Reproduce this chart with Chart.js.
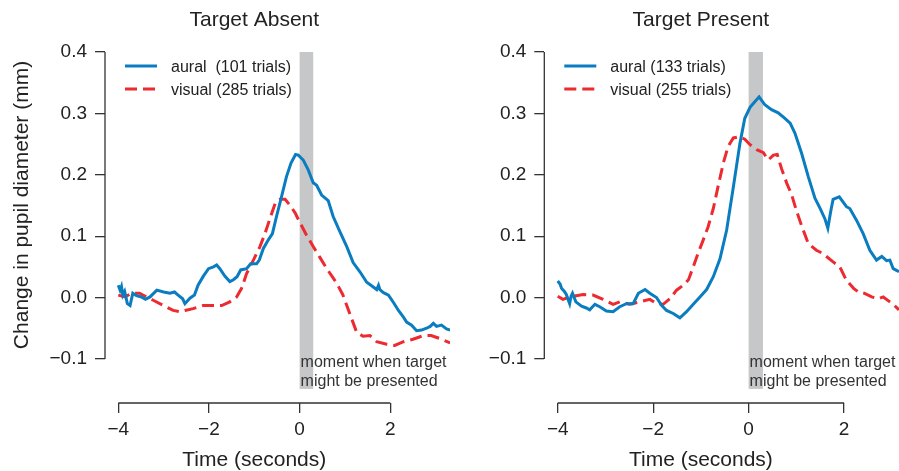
<!DOCTYPE html>
<html>
<head>
<meta charset="utf-8">
<script src="https://cdn.jsdelivr.net/npm/chart.js@4.4.1/dist/chart.umd.min.js"></script>
<style>
  html, body { margin: 0; padding: 0; background: #fff; }
  #wrap { position: relative; width: 899px; height: 471px; overflow: hidden; }
  canvas { position: absolute; top: 0; }
  #absent { left: 0; }
  #present { left: 450px; }
</style>
</head>
<body>
<div id="wrap">
  <canvas id="absent" width="450" height="471"></canvas>
  <canvas id="present" width="449" height="471"></canvas>
</div>
<script>
// ---- data (time in s, change in mm) ----
const absentAuralT = [-4.0, -3.96, -3.93, -3.9, -3.86, -3.8, -3.74, -3.68, -3.6, -3.49, -3.4, -3.3, -3.15, -3.0, -2.86, -2.76, -2.68, -2.58, -2.53, -2.42,
  -2.32, -2.24, -2.13, -2.01, -1.9, -1.83, -1.76, -1.65, -1.54, -1.46, -1.38, -1.3, -1.17, -1.08, -0.95, -0.89, -0.8, -0.69, -0.6, -0.51,
  -0.4, -0.29, -0.19, -0.09, -0.03, 0.08, 0.19, 0.3, 0.375, 0.485, 0.63, 0.74, 0.89, 1.04, 1.18, 1.33, 1.48, 1.61, 1.7, 1.74,
  1.77, 1.85, 1.96, 2.07, 2.18, 2.29, 2.36, 2.47, 2.58, 2.69, 2.8, 2.88, 2.95, 3.02, 3.13, 3.24, 3.32];
const absentAuralV = [0.020, 0.012, 0.018, 0.004, 0.010, -0.010, -0.013, 0.007, 0.003, 0.001, -0.003, 0.001, 0.012, 0.009, 0.007, 0.009, 0.004, -0.002, -0.010, -0.001,
  0.004, 0.020, 0.034, 0.047, 0.050, 0.053, 0.047, 0.035, 0.026, 0.029, 0.034, 0.045, 0.047, 0.055, 0.055, 0.061, 0.080, 0.094, 0.104, 0.132,
  0.164, 0.197, 0.219, 0.233, 0.232, 0.224, 0.208, 0.187, 0.183, 0.167, 0.158, 0.132, 0.107, 0.083, 0.057, 0.042, 0.025, 0.018, 0.013, 0.020,
  0.013, 0.008, 0.004, -0.008, -0.021, -0.032, -0.040, -0.045, -0.054, -0.053, -0.050, -0.047, -0.042, -0.047, -0.045, -0.051, -0.053];

const absentVisualT = [-4.0, -3.85, -3.71, -3.53, -3.38, -3.24, -3.0, -2.79, -2.64, -2.53, -2.35, -2.13, -1.9, -1.72, -1.54, -1.39, -1.28, -1.17, -1.02, -0.875,
  -0.765, -0.64, -0.54, -0.43, -0.32, -0.21, -0.1, 0.0, 0.15, 0.3, 0.45, 0.6, 0.82, 0.95, 1.04, 1.15, 1.26, 1.4, 1.55, 1.7,
  1.92, 2.1, 2.29, 2.5, 2.73, 2.9, 3.1, 3.32];
const absentVisualV = [0.004, 0.001, 0.007, 0.007, 0.001, -0.004, -0.013, -0.021, -0.023, -0.021, -0.018, -0.013, -0.013, -0.013, -0.007, 0.001, 0.015, 0.039, 0.061, 0.083,
  0.104, 0.132, 0.153, 0.160, 0.160, 0.150, 0.138, 0.123, 0.102, 0.083, 0.065, 0.047, 0.023, 0.005, -0.013, -0.035, -0.057, -0.063, -0.062, -0.072,
  -0.076, -0.078, -0.072, -0.068, -0.062, -0.062, -0.067, -0.074];

const presentAuralT = [-4.0, -3.95, -3.92, -3.86, -3.82, -3.75, -3.72, -3.69, -3.62, -3.5, -3.4, -3.33, -3.22, -3.12, -2.98, -2.84, -2.7, -2.56, -2.42, -2.31,
  -2.17, -2.07, -1.93, -1.82, -1.72, -1.58, -1.44, -1.3, -1.16, -1.02, -0.88, -0.74, -0.6, -0.46, -0.32, -0.18, -0.08, 0.03, 0.13, 0.22,
  0.34, 0.48, 0.62, 0.76, 0.87, 0.97, 1.11, 1.25, 1.39, 1.5, 1.6, 1.66, 1.72, 1.77, 1.9, 2.05, 2.12, 2.26, 2.4, 2.54,
  2.68, 2.79, 2.89, 2.96, 3.03, 3.15];
const presentAuralV = [0.027, 0.022, 0.015, 0.010, 0.005, -0.010, 0.002, 0.007, -0.007, -0.014, -0.017, -0.020, -0.011, -0.015, -0.022, -0.023, -0.015, -0.010, -0.010, 0.007,
  0.013, 0.007, 0.000, -0.013, -0.021, -0.026, -0.033, -0.023, -0.011, 0.001, 0.013, 0.034, 0.063, 0.110, 0.180, 0.252, 0.292, 0.310, 0.319, 0.327,
  0.314, 0.306, 0.301, 0.292, 0.284, 0.268, 0.235, 0.197, 0.162, 0.145, 0.128, 0.113, 0.140, 0.160, 0.164, 0.148, 0.145, 0.126, 0.104, 0.077,
  0.061, 0.067, 0.060, 0.061, 0.047, 0.042];

const presentVisualT = [-4.0, -3.89, -3.75, -3.61, -3.47, -3.26, -3.05, -2.84, -2.7, -2.49, -2.28, -2.07, -1.93, -1.79, -1.65, -1.51, -1.37, -1.26, -1.16, -1.06,
  -0.95, -0.85, -0.74, -0.64, -0.53, -0.43, -0.32, -0.2, -0.08, 0.03, 0.17, 0.31, 0.41, 0.52, 0.6, 0.69, 0.8, 0.9, 1.0, 1.11,
  1.25, 1.42, 1.55, 1.77, 1.91, 2.05, 2.2, 2.3, 2.42, 2.58, 2.72, 2.82, 2.96, 3.03, 3.15];
const presentVisualV = [0.002, -0.003, 0.001, 0.003, 0.005, 0.004, -0.003, -0.011, -0.007, -0.011, -0.007, -0.003, -0.010, -0.011, -0.002, 0.012, 0.020, 0.029, 0.050, 0.072,
  0.094, 0.115, 0.145, 0.181, 0.219, 0.246, 0.260, 0.262, 0.258, 0.249, 0.241, 0.236, 0.224, 0.232, 0.233, 0.210, 0.186, 0.168, 0.142, 0.117,
  0.088, 0.077, 0.072, 0.058, 0.050, 0.028, 0.015, 0.009, 0.007, 0.001, -0.002, 0.001, -0.007, -0.011, -0.020];

const yTicks = [-0.1, 0.0, 0.1, 0.2, 0.3, 0.4];
const xTicks = [-4, -2, 0, 2];
const panelTitles = ['Target Absent', 'Target Present'];
const legendAbsent = ['aural  (101 trials)', 'visual (285 trials)'];
const legendPresent = ['aural (133 trials)', 'visual (255 trials)'];
const noteLines = ['moment when target', 'might be presented'];
const targetWindow = [0, 0.3];

const BLUE = '#0a7dc0';
const RED = '#ec2a30';
const INK = '#222';
const FONT = '"Liberation Sans", Arial, Helvetica, sans-serif';

Chart.defaults.font.family = FONT;
Chart.defaults.color = INK;

function toPoints(ts, vs) {
  return ts.map((t, i) => ({ x: t, y: vs[i] }));
}

function minusSign(s) {
  return s.replace('-', '\u2212');
}

/** ---------------- decorations: window bar, axes, titles, legend ---------------- **/
const panelDecor = {
  id: 'panelDecor',
  beforeDatasetsDraw(chart) {
    const { ctx, scales: { x, y } } = chart;
    const x0 = x.getPixelForValue(targetWindow[0]);
    const x1 = x.getPixelForValue(targetWindow[1]);
    const y0 = y.getPixelForValue(0.4);
    const y1 = y.getPixelForValue(-0.1) + 30;
    ctx.save();
    ctx.fillStyle = '#c6c7c9';
    ctx.fillRect(x0, y0, x1 - x0, y1 - y0);
    // note text over the bar
    ctx.fillStyle = '#333';
    ctx.font = '16px ' + FONT;
    ctx.textAlign = 'left';
    ctx.textBaseline = 'alphabetic';
    const yb = y.getPixelForValue(-0.1);
    ctx.fillText(noteLines[0], x0 + 1, yb + 8);
    ctx.fillText(noteLines[1], x0 + 1, yb + 27);
    ctx.restore();
  },
  afterDraw(chart, args, opts) {
    const { ctx, chartArea, scales: { x, y } } = chart;
    ctx.save();
    // axis lines only across tick range
    ctx.strokeStyle = '#333';
    ctx.lineWidth = 1.3;
    ctx.beginPath();
    ctx.moveTo(chartArea.left, y.getPixelForValue(0.4));
    ctx.lineTo(chartArea.left, y.getPixelForValue(-0.1));
    ctx.moveTo(x.getPixelForValue(-4), chartArea.bottom);
    ctx.lineTo(x.getPixelForValue(2), chartArea.bottom);
    ctx.stroke();

    const cx = x.getPixelForValue(-1);
    ctx.fillStyle = INK;
    ctx.textAlign = 'center';
    ctx.textBaseline = 'alphabetic';
    ctx.font = '21px ' + FONT;
    ctx.fillText(opts.title, cx, 26);
    ctx.fillText('Time (seconds)', cx, 466);

    if (opts.yTitle) {
      ctx.save();
      ctx.translate(28, 205);
      ctx.rotate(-Math.PI / 2);
      ctx.fillText('Change in pupil diameter (mm)', 0, 0);
      ctx.restore();
    }

    // legend
    const lx = chartArea.left + 20;
    ctx.lineWidth = 3;
    ctx.strokeStyle = BLUE;
    ctx.beginPath();
    ctx.moveTo(lx, 66);
    ctx.lineTo(lx + 32, 66);
    ctx.stroke();
    ctx.strokeStyle = RED;
    ctx.setLineDash([12, 6]);
    ctx.beginPath();
    ctx.moveTo(lx, 89);
    ctx.lineTo(lx + 33, 89);
    ctx.stroke();
    ctx.setLineDash([]);
    ctx.font = '16px ' + FONT;
    ctx.textAlign = 'left';
    ctx.fillStyle = INK;
    ctx.fillText(opts.legend[0], lx + 46, 72);
    ctx.fillText(opts.legend[1], lx + 46, 94.5);
    ctx.restore();
  }
};

function makeChart(id, aural, visual, cfg) {
  return new Chart(document.getElementById(id), {
    type: 'line',
    data: {
      datasets: [
        { label: cfg.legend[0], data: aural, borderColor: BLUE, borderWidth: 3, pointRadius: 0, fill: false, tension: 0 },
        { label: cfg.legend[1], data: visual, borderColor: RED, borderWidth: 3, borderDash: [12, 6], pointRadius: 0, fill: false, tension: 0 }
      ]
    },
    options: {
      responsive: false,
      animation: false,
      devicePixelRatio: 1,
      events: [],
      layout: { padding: { top: 52, left: 0, right: 0, bottom: 0 } },
      scales: {
        x: {
          type: 'linear',
          min: cfg.xMin,
          max: cfg.xMax,
          afterFit: (s) => { s.height = 68; },
          afterBuildTicks: (s) => { s.ticks = xTicks.map(v => ({ value: v })); },
          grid: { drawOnChartArea: false, drawTicks: true, tickLength: 10, color: '#333', lineWidth: 1.3 },
          border: { display: false },
          ticks: { padding: 5, font: { size: 19 }, color: INK, callback: (v) => minusSign(String(v)) }
        },
        y: {
          type: 'linear',
          min: -0.1718,
          max: 0.4,
          afterFit: (s) => { s.width = cfg.yWidth; },
          afterBuildTicks: (s) => { s.ticks = yTicks.map(v => ({ value: v })); },
          grid: { drawOnChartArea: false, drawTicks: true, tickLength: 10, color: '#333', lineWidth: 1.3 },
          border: { display: false },
          ticks: { padding: 8, font: { size: 19 }, color: INK, callback: (v) => minusSign(Number(v).toFixed(1)) }
        }
      },
      plugins: {
        legend: { display: false },
        tooltip: { enabled: false },
        panelDecor: { title: cfg.title, legend: cfg.legend, yTitle: cfg.yTitle }
      }
    },
    plugins: [panelDecor]
  });
}

makeChart('absent', toPoints(absentAuralT, absentAuralV), toPoints(absentVisualT, absentVisualV),
  { title: panelTitles[0], legend: legendAbsent, xMin: -4.293, xMax: 3.317, yWidth: 105, yTitle: true });
makeChart('present', toPoints(presentAuralT, presentAuralV), toPoints(presentVisualT, presentVisualV),
  { title: panelTitles[1], legend: legendPresent, xMin: -4.281, xMax: 3.151, yWidth: 94.3, yTitle: false });
</script>
</body>
</html>
